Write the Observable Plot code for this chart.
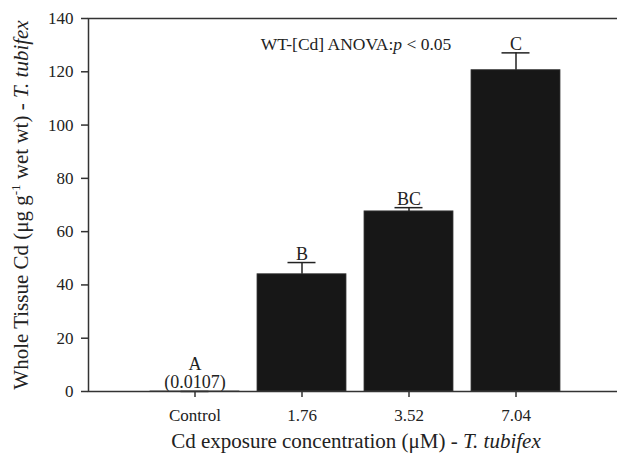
<!DOCTYPE html>
<html>
<head>
<meta charset="utf-8">
<script src="https://cdn.jsdelivr.net/npm/d3@7"></script>
<script src="https://cdn.jsdelivr.net/npm/@observablehq/plot@0.6"></script>
<style>
  html, body { margin: 0; padding: 0; background: #fff; overflow: hidden; }
  #chart { width: 617px; height: 453px; overflow: hidden; }
</style>
</head>
<body>
<div id="chart"></div>
<script>
// ---- data ----
const categories = ["Control", "1.76", "3.52", "7.04"];
const means = [0.0107, 44.0, 67.6, 120.6];
const upper = [0.0107, 48.4, 69.0, 127.1];
const letters = ["A\n(0.0107)", "B", "BC", "C"];
const yTicks = [0, 20, 40, 60, 80, 100, 120, 140];
const yLabel = "Whole Tissue Cd (μg g-1 wet wt) - T. tubifex";
const xLabel = "Cd exposure concentration (μM) - T. tubifex";
const note = "WT-[Cd] ANOVA:p < 0.05";

const rows = categories.map((c, i) => ({cat: c, mean: means[i], upper: upper[i], letter: letters[i]}));
const ink = "#222";

const chart = Plot.plot({
  width: 617,
  height: 453,
  marginLeft: 88,
  marginRight: -6,
  marginTop: 18,
  marginBottom: 62,
  style: {fontFamily: "'Liberation Serif', 'Times New Roman', serif", fontSize: "17px", color: ink, background: "#fff"},
  x: {type: "band", domain: categories, paddingInner: 0.168, paddingOuter: 0.584, label: null},
  y: {domain: [0, 140], label: null},
  marks: [
    Plot.barY(rows, {x: "cat", y: "mean", fill: "#171717", stroke: "#3a3a3a", strokeWidth: 0.8}),
    Plot.ruleX(rows, {x: "cat", y1: "mean", y2: "upper", stroke: ink, strokeWidth: 1.5}),
    Plot.tickY(rows, {x: "cat", y: "upper", stroke: ink, strokeWidth: 1.5, insetLeft: 30.5, insetRight: 30.5}),
    Plot.text(rows, {x: "cat", y: "upper", text: "letter", lineAnchor: "bottom", dy: -3, fill: ink, fontSize: 18, lineHeight: 1.0}),
    Plot.frame({stroke: "#333", strokeWidth: 1.5}),
    Plot.axisY({ticks: yTicks, tickSize: 7, tickPadding: 8, strokeWidth: 1.5, stroke: "#333", label: null, fill: ink, fontSize: 17}),
    Plot.axisX({tickSize: 6, tickPadding: 11, strokeWidth: 1.5, stroke: "#333", label: null, fill: ink, fontSize: 17}),
    Plot.text([note], {frameAnchor: "top", dy: 26, lineAnchor: "middle", textAnchor: "middle", fontSize: 17.5, fill: ink, className: "note"}),
    Plot.text([xLabel], {frameAnchor: "bottom", dy: 50, lineAnchor: "middle", textAnchor: "middle", fontSize: 21, fill: ink, className: "xlab"}),
    Plot.text([yLabel], {frameAnchor: "left", dx: -67, rotate: -90, lineAnchor: "middle", textAnchor: "middle", fontSize: 21, fill: ink, className: "ylab"})
  ]
});
document.getElementById("chart").append(chart);

// rich-text formatting (italic / superscript) on the labels
function richify(sel, parts) {
  d3.select(chart).selectAll(sel + " text").each(function () {
    const t = d3.select(this);
    t.text(null);
    parts.forEach(p => {
      const ts = t.append("tspan").text(p.t);
      if (p.it) ts.attr("font-style", "italic");
      if (p.sup) ts.attr("font-size", "13px").attr("dy", "-8");
      if (p.down) ts.attr("dy", "8");
    });
  });
}
richify(".ylab", [{t: "Whole Tissue Cd (μg g"}, {t: "-1", sup: true}, {t: " wet wt) - ", down: true}, {t: "T. tubifex", it: true}]);
richify(".xlab", [{t: "Cd exposure concentration (μM) - "}, {t: "T. tubifex", it: true}]);
richify(".note", [{t: "WT-[Cd] ANOVA:"}, {t: "p", it: true}, {t: " < 0.05"}]);
</script>
</body>
</html>
